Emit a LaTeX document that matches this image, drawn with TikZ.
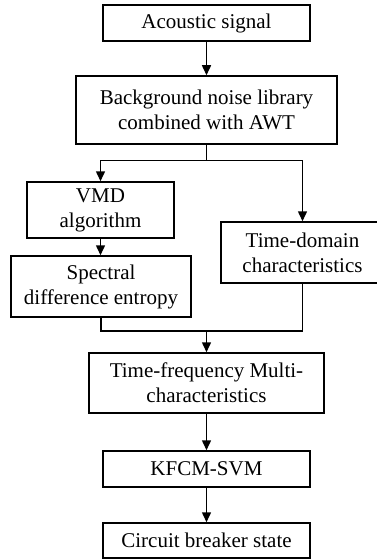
\documentclass[tikz,border=0pt]{standalone}
\usepackage{fontspec}
\setmainfont{Liberation Serif}
\usetikzlibrary{arrows.meta}

\begin{document}
\begin{tikzpicture}[x=1pt,y=-1pt,
  blk/.style={draw,line width=1.5pt,align=center,inner sep=0pt,
    font=\fontsize{21}{25}\selectfont},
  flow/.style={line width=1.5pt,-{Triangle[length=10pt,width=9pt]}}]
\useasboundingbox (0,0) rectangle (377,559);
\coordinate (A) at (206.5,23);
\coordinate (B) at (206.5,110);
\coordinate (C) at (100.5,210);
\coordinate (D) at (101,286.5);
\coordinate (E) at (302.5,252.5);
\coordinate (F) at (206.5,383);
\coordinate (G) at (206.5,469);
\coordinate (H) at (206.5,540.5);
\coordinate (S) at (206.5,160.5);
\coordinate (J) at (206.5,331);

\node[blk,minimum width=207,minimum height=36] (sig) at (A) {Acoustic signal};
\node[blk,minimum width=261,minimum height=68] (bgn) at (B) {Background noise library\\combined with AWT};
\node[blk,minimum width=147,minimum height=56] (vmd) at (C) {VMD\\algorithm};
\node[blk,minimum width=180,minimum height=61] (sde) at (D) {Spectral\\difference entropy};
\node[blk,minimum width=163,minimum height=61] (tdc) at (E) {Time-domain\\characteristics};
\node[blk,minimum width=235,minimum height=60] (tfm) at (F) {Time-frequency Multi-\\characteristics};
\node[blk,minimum width=207,minimum height=36] (kfcm) at (G) {KFCM-SVM};
\node[blk,minimum width=207,minimum height=35] (cbs) at (H) {Circuit breaker state};

\draw[flow] (sig) -- (bgn);
\draw[line width=1.5pt] (bgn) -- (S);
\draw[flow] (S) -| (vmd);
\draw[flow] (S) -| (tdc);
\draw[flow] (vmd) -- (sde.north -| vmd);
\draw[line width=1.5pt] (sde) |- (J) -| (tdc);
\draw[flow] (J) -- (tfm);
\draw[flow] (tfm) -- (kfcm);
\draw[flow] (kfcm) -- (cbs);
\end{tikzpicture}
\end{document}
